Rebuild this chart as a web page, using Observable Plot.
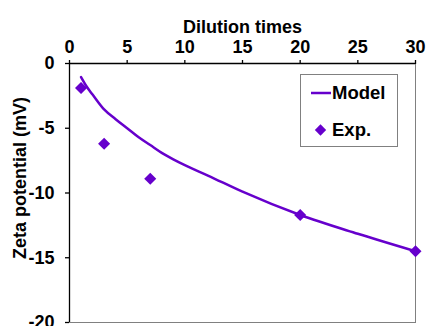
<!DOCTYPE html>
<html>
<head>
<meta charset="utf-8">
<script src="https://cdn.jsdelivr.net/npm/d3@7"></script>
<script src="https://cdn.jsdelivr.net/npm/@observablehq/plot@0.6"></script>
<style>
  html, body { margin: 0; padding: 0; background: #fff; }
  #wrap { position: relative; width: 426px; height: 326px; font-family: "Liberation Sans", Arial, sans-serif; font-weight: bold; }
  #legend { position: absolute; left: 300px; top: 74px; width: 98px; height: 73px; border: 1px solid #808080; background: #fff; box-sizing: border-box; }
  .lrow { position: absolute; left: 0; display: flex; align-items: center; font-size: 18.5px; color: #000; }
</style>
</head>
<body>
<div id="wrap"></div>
<script>
const xTicks = [0, 5, 10, 15, 20, 25, 30];
const yTicks = [0, -5, -10, -15, -20];
const modelX = [1, 1.5, 2, 3, 4, 5, 6, 7, 8, 9, 10, 12, 15, 20, 25, 30];
const modelY = [-1.05, -1.8, -2.4, -3.55, -4.3, -5.0, -5.7, -6.3, -6.9, -7.4, -7.85, -8.65, -9.9, -11.7, -13.15, -14.5];
const expX = [1, 3, 7, 20, 30];
const expY = [-1.9, -6.2, -8.9, -11.7, -14.5];
const seriesNames = ["Model", "Exp."];
const purple = "#6600CC";

const model = modelX.map((x, i) => ({x, y: modelY[i]}));
const exp = expX.map((x, i) => ({x, y: expY[i]}));

const chart = Plot.plot({
  width: 426,
  height: 326,
  marginLeft: 69,
  marginRight: 11,
  marginTop: 63,
  marginBottom: 4,
  style: {fontFamily: "'Liberation Sans', Arial, sans-serif", fontWeight: "bold", fontSize: "18px", color: "#000", background: "#fff"},
  x: {domain: [0, 30]},
  y: {domain: [-20, 0]},
  marks: [
    Plot.frame({stroke: "#808080", strokeWidth: 1}),
    Plot.axisX({anchor: "top", ticks: xTicks, tickSize: 4, tickPadding: 7, strokeWidth: 1.3, label: null, fontSize: 18, tickFormat: d => String(d)}),
    Plot.axisY({anchor: "left", ticks: yTicks, tickSize: 4, tickPadding: 11, strokeWidth: 1.3, label: null, fontSize: 18, tickFormat: d => String(d)}),
    Plot.ruleY([0], {stroke: "#000", strokeWidth: 1.3}),
    Plot.ruleX([0], {stroke: "#000", strokeWidth: 1.3}),
    Plot.line(model, {x: "x", y: "y", stroke: purple, strokeWidth: 2.5, curve: "monotone-x"}),
    Plot.dot(exp, {x: "x", y: "y", symbol: "square", r: 4.8, fill: purple, stroke: "none", rotate: 45}),
    Plot.text(["Dilution times"], {frameAnchor: "top", dy: -43, fontSize: 18, fontWeight: "bold", fill: "#000"}),
    Plot.text(["Zeta potential (mV)"], {frameAnchor: "left", textAnchor: "middle", dx: -49, dy: -15, rotate: -90, fontSize: 18, fontWeight: "bold", fill: "#000"})
  ]
});

const wrap = document.getElementById("wrap");
wrap.appendChild(chart);

const legend = document.createElement("div");
legend.id = "legend";
legend.innerHTML = `
  <div class="lrow" style="top:7px;left:9px;">
    <svg width="22" height="20"><line x1="1" y1="10" x2="21" y2="10" stroke="${purple}" stroke-width="2.5"/></svg>
    <span>${seriesNames[0]}</span>
  </div>
  <div class="lrow" style="top:44px;left:9px;">
    <svg width="22" height="20"><rect x="6.5" y="6" width="8" height="8" fill="${purple}" transform="rotate(45 10.5 10)"/></svg>
    <span>${seriesNames[1]}</span>
  </div>`;
wrap.appendChild(legend);
</script>
</body>
</html>
